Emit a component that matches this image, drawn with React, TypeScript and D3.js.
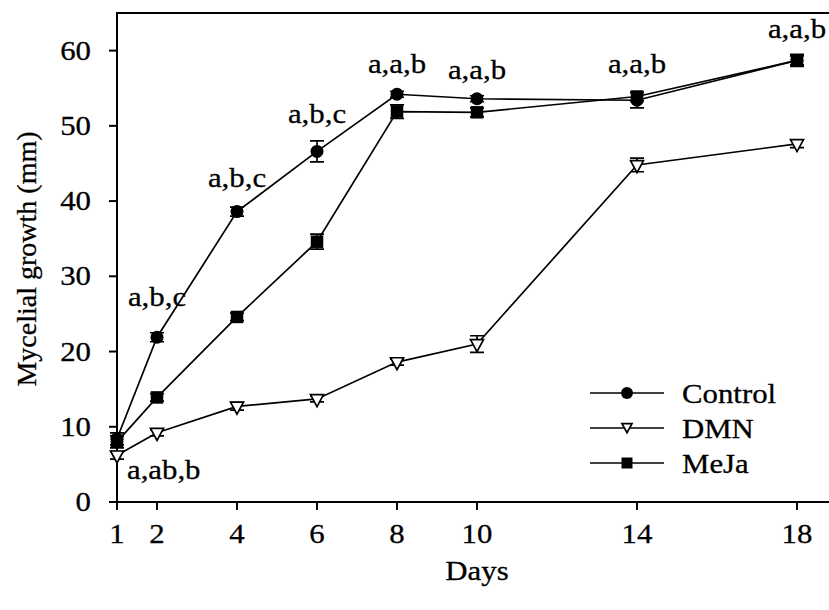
import * as d3 from "d3";
import { useEffect, useRef } from "react";

// days sampled
const days = [1, 2, 4, 6, 8, 10, 14, 18];

// mycelial growth (mm) and standard errors
const control = [8.4, 21.9, 38.6, 46.6, 54.2, 53.6, 53.4, 58.7];
const controlErr = [0.8, 0.6, 0.6, 1.4, 0.4, 0.4, 1.0, 0.6];
const dmn = [6.2, 9.2, 12.7, 13.7, 18.6, 21.0, 44.8, 47.6];
const dmnErr = [0.5, 0.4, 0.5, 0.4, 0.4, 1.1, 0.9, 0.5];
const meja = [8.0, 13.9, 24.6, 34.6, 51.9, 51.8, 53.9, 58.7];
const mejaErr = [0.8, 0.5, 0.5, 1.0, 0.9, 0.6, 0.6, 0.8];

// significance letters and the value (mm) each one sits at
const letters = ["a,ab,b", "a,b,c", "a,b,c", "a,b,c", "a,a,b", "a,a,b", "a,a,b", "a,a,b"];
const letterAt = [3.1, 26.1, 41.9, 50.4, 57.0, 56.2, 57.0, 61.7];

const xTicks = [1, 2, 4, 6, 8, 10, 14, 18];
const yTicks = [0, 10, 20, 30, 40, 50, 60];

const WIDTH = 829;
const HEIGHT = 610;
const FONT = "'Liberation Serif', 'Times New Roman', serif";
const FONT_SIZE = 28;
const STRETCH = 1.1; // glyphs in the picture are a bit wide

const App = () => {
  const svgRef = useRef(null);

  useEffect(() => {
    const svg = d3.select(svgRef.current);
    svg.selectAll("*").remove();

    const x = d3.scaleLinear().domain([1, 19]).range([117, 837]);
    const y = d3.scaleLinear().domain([0, 65]).range([502, 13]);

    // stretched text helper
    const label = (tx, ty, text, anchor = "middle", rotate = 0) =>
      svg
        .append("text")
        .attr(
          "transform",
          `translate(${tx},${ty})` + (rotate ? ` rotate(${rotate})` : ` scale(${STRETCH},1)`)
        )
        .attr("text-anchor", anchor)
        .attr("font-family", FONT)
        .attr("font-size", FONT_SIZE)
        .attr("fill", "#000")
        .attr("stroke", "#000")
        .attr("stroke-width", 0.3)
        .text(text);

    // frame
    svg
      .append("path")
      .attr("d", `M${x(19)},${y(65)}H${x(1)}V${y(0)}H${x(19)}`)
      .attr("fill", "none")
      .attr("stroke", "#000")
      .attr("stroke-width", 2);

    // y ticks
    yTicks.forEach((t) => {
      svg
        .append("line")
        .attr("x1", x(1) - 8)
        .attr("x2", x(1))
        .attr("y1", y(t))
        .attr("y2", y(t))
        .attr("stroke", "#000")
        .attr("stroke-width", 2);
      label(91, y(t) + 9, String(t), "end");
    });

    // x ticks
    xTicks.forEach((t) => {
      svg
        .append("line")
        .attr("x1", x(t))
        .attr("x2", x(t))
        .attr("y1", y(0))
        .attr("y2", y(0) + 8)
        .attr("stroke", "#000")
        .attr("stroke-width", 2);
      label(x(t), 543, String(t));
    });

    label((x(1) + x(19)) / 2, 580, "Days");
    label(36, 259, "Mycelial growth (mm)", "middle", -90);

    const line = d3
      .line()
      .x((d) => x(d[0]))
      .y((d) => y(d[1]));

    const drawSeries = (vals, errs, marker) => {
      const pts = days.map((d, i) => [d, vals[i]]);
      svg
        .append("path")
        .datum(pts)
        .attr("fill", "none")
        .attr("stroke", "#000")
        .attr("stroke-width", 1.7)
        .attr("d", line);

      pts.forEach((p, i) => {
        const cx = x(p[0]);
        const lo = y(p[1] - errs[i]);
        const hi = y(p[1] + errs[i]);
        svg
          .append("path")
          .attr("d", `M${cx},${lo}V${hi}M${cx - 7},${lo}H${cx + 7}M${cx - 7},${hi}H${cx + 7}`)
          .attr("stroke", "#000")
          .attr("stroke-width", 1.7)
          .attr("fill", "none");
        marker(svg, cx, y(p[1]));
      });
    };

    const circle = (g, cx, cy, r = 6.5) =>
      g.append("circle").attr("cx", cx).attr("cy", cy).attr("r", r).attr("fill", "#000");
    const square = (g, cx, cy, s = 12.5) =>
      g
        .append("rect")
        .attr("x", cx - s / 2)
        .attr("y", cy - s / 2)
        .attr("width", s)
        .attr("height", s)
        .attr("fill", "#000");
    const triangle = (g, cx, cy, s = 13) =>
      g
        .append("path")
        .attr("d", `M${cx - s / 2},${cy - s / 3}H${cx + s / 2}L${cx},${cy + (s * 2) / 3 - 1}Z`)
        .attr("fill", "#fff")
        .attr("stroke", "#000")
        .attr("stroke-width", 1.7);

    drawSeries(dmn, dmnErr, triangle);
    drawSeries(meja, mejaErr, square);
    drawSeries(control, controlErr, circle);

    // significance letters
    letters.forEach((t, i) => {
      if (i === 0) label(x(days[i]) + 10, y(letterAt[i]), t, "start");
      else label(x(days[i]), y(letterAt[i]), t);
    });

    // legend
    const legend = [
      { name: "Control", marker: circle },
      { name: "DMN", marker: triangle },
      { name: "MeJa", marker: square },
    ];
    const rowY = d3.scalePoint().domain(legend.map((l) => l.name)).range([393, 463]);
    legend.forEach((l) => {
      const ly = rowY(l.name);
      svg
        .append("line")
        .attr("x1", 590)
        .attr("x2", 664)
        .attr("y1", ly)
        .attr("y2", ly)
        .attr("stroke", "#000")
        .attr("stroke-width", 1.7);
      if (l.name === "DMN") l.marker(svg, 627, ly - 1, 10);
      else if (l.name === "MeJa") l.marker(svg, 627, ly, 11);
      else l.marker(svg, 627, ly, 6);
      label(682, ly + 10, l.name, "start");
    });
  }, []);

  return (
    <svg
      ref={svgRef}
      width={WIDTH}
      height={HEIGHT}
      style={{ position: "absolute", left: 0, top: 0, background: "#fff" }}
    ></svg>
  );
};

export default App;
